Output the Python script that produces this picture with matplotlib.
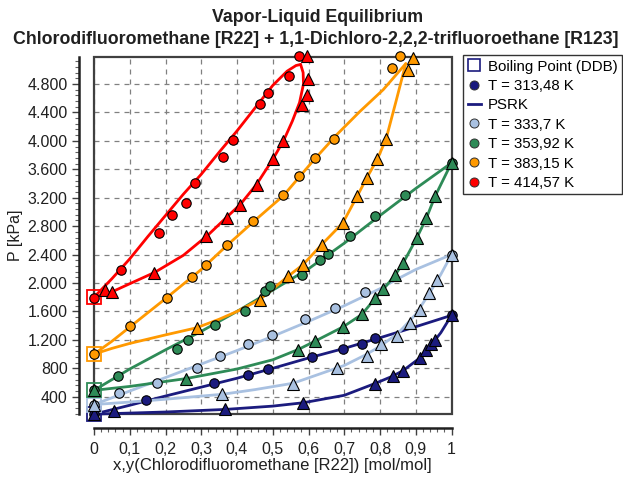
import matplotlib
matplotlib.use("Agg")
import matplotlib.pyplot as plt
from matplotlib.lines import Line2D
from matplotlib.patches import Rectangle
from matplotlib.ticker import MultipleLocator, FuncFormatter

plt.rcParams['font.family'] = ['Liberation Sans', 'DejaVu Sans']

# ---- data: (x = liquid, y = vapour mole fraction of R22, P in kPa) ----
temps = ["T = 313,48 K", "T = 333,7 K", "T = 353,92 K", "T = 383,15 K", "T = 414,57 K"]
colors = ["#1b1b7e", "#a9c1e1", "#2e8b57", "#ff9900", "#ff0000"]

# pure R123 boiling pressures at each temperature
bp_p = [155, 290, 490, 1000, 1800]

# 313.48 K
x1 = [0.0, 0.145, 0.337, 0.432, 0.488, 0.609, 0.696, 0.749, 0.786, 1.0]
px1 = [155, 347, 596, 703, 793, 957, 1078, 1144, 1229, 1545]
y1 = [0.0, 0.055, 0.366, 0.585, 0.786, 0.835, 0.865, 0.912, 0.930, 0.944, 0.953, 1.0]
py1 = [155, 200, 221, 315, 586, 689, 769, 947, 1064, 1135, 1205, 1545]

# 333.7 K
x2 = [0.0, 0.071, 0.175, 0.287, 0.352, 0.432, 0.497, 0.590, 0.674, 0.758, 1.0]
px2 = [290, 446, 596, 807, 980, 1135, 1275, 1496, 1651, 1870, 2400]
y2 = [0.0, 0.357, 0.557, 0.681, 0.763, 0.804, 0.847, 0.884, 0.912, 0.938, 0.960, 1.0]
py2 = [290, 432, 586, 807, 980, 1135, 1251, 1440, 1623, 1862, 2039, 2400]

# 353.92 K
x3 = [0.0, 0.068, 0.231, 0.264, 0.338, 0.422, 0.478, 0.492, 0.581, 0.632, 0.655,
      0.716, 0.786, 0.870, 1.0]
px3 = [490, 689, 1074, 1205, 1416, 1603, 1884, 1955, 2119, 2320, 2414,
       2667, 2939, 3244, 3690]
y3 = [0.0, 0.257, 0.571, 0.618, 0.697, 0.749, 0.786, 0.809, 0.842, 0.865, 0.903,
      0.930, 0.954, 1.0]
py3 = [490, 652, 1064, 1181, 1384, 1557, 1791, 1918, 2119, 2283, 2635,
       2916, 3220, 3690]

# 383.15 K
x4 = [0.0, 0.101, 0.205, 0.273, 0.313, 0.371, 0.444, 0.530, 0.574, 0.618, 0.670,
      0.833, 0.857]
px4 = [1000, 1392, 1791, 2087, 2260, 2541, 2869, 3244, 3501, 3760, 4031,
       5025, 5189]
y4 = [0.287, 0.464, 0.543, 0.585, 0.637, 0.696, 0.736, 0.763, 0.793, 0.817,
      0.879, 0.891]
py4 = [1370, 1767, 2095, 2260, 2541, 2846, 3220, 3479, 3746, 4027, 5001, 5166]

# 414.57 K
x5 = [0.0, 0.075, 0.183, 0.217, 0.257, 0.283, 0.360, 0.390, 0.464, 0.488,
      0.546, 0.574]
px5 = [1791, 2179, 2700, 2953, 3127, 3408, 3769, 4017, 4523, 4674, 4907, 5198]
y5 = [0.031, 0.049, 0.168, 0.313, 0.371, 0.408, 0.455, 0.502, 0.528, 0.581,
      0.595, 0.599, 0.595]
py5 = [1908, 1870, 2143, 2658, 2916, 3103, 3384, 3746, 3993, 4509, 4650, 4870, 5189]

# PSRK model curves (bubble branch, then dew branch)
m1_x = [0.0, 0.1, 0.2, 0.3, 0.4, 0.5, 0.6, 0.7, 0.8, 0.9, 1.0]
m1_p = [155, 280, 410, 535, 660, 800, 945, 1080, 1230, 1385, 1545]
m1_y = [0.0, 0.2, 0.366, 0.5, 0.585, 0.7, 0.786, 0.835, 0.865, 0.912, 0.944, 0.97, 1.0]
m1_q = [155, 185, 221, 268, 315, 420, 586, 689, 769, 947, 1135, 1300, 1545]

m2_x = [0.0, 0.1, 0.2, 0.3, 0.4, 0.5, 0.6, 0.7, 0.8, 0.85, 0.9, 1.0]
m2_p = [290, 480, 670, 860, 1050, 1250, 1460, 1680, 1920, 2060, 2190, 2400]
m2_y = [0.0, 0.1, 0.2, 0.36, 0.45, 0.557, 0.7, 0.76, 0.8, 0.85, 0.9, 0.94, 0.97, 1.0]
m2_q = [290, 325, 365, 435, 500, 590, 840, 990, 1110, 1290, 1560, 1870, 2120, 2400]

m3_x = [0.0, 0.1, 0.2, 0.3, 0.4, 0.5, 0.6, 0.7, 0.8, 0.9, 1.0]
m3_p = [490, 790, 1060, 1320, 1600, 1900, 2200, 2560, 2950, 3330, 3690]
m3_y = [0.0, 0.1, 0.257, 0.4, 0.5, 0.571, 0.618, 0.697, 0.749, 0.786, 0.809, 0.842,
        0.865, 0.903, 0.93, 0.954, 1.0]
m3_q = [490, 545, 655, 790, 920, 1064, 1181, 1384, 1557, 1780, 1910, 2110,
        2283, 2635, 2916, 3220, 3690]

m4_x = [0.0, 0.05, 0.1, 0.2, 0.3, 0.37, 0.45, 0.53, 0.613, 0.679, 0.744, 0.809, 0.872]
m4_p = [1000, 1180, 1380, 1780, 2190, 2520, 2880, 3230, 3720, 4087, 4415, 4720, 5086]
m4_y = [0.0, 0.05, 0.1, 0.15, 0.2, 0.287, 0.35, 0.4, 0.464, 0.543, 0.585, 0.637,
        0.696, 0.736, 0.763, 0.793, 0.817, 0.845, 0.872]
m4_q = [1000, 1080, 1150, 1210, 1270, 1370, 1490, 1600, 1767, 2095, 2260, 2541,
        2846, 3220, 3479, 3746, 4027, 4560, 5086]

m5_x = [0.0, 0.05, 0.1, 0.15, 0.2, 0.25, 0.3, 0.35, 0.4, 0.45, 0.5, 0.54, 0.565, 0.578]
m5_p = [1800, 2060, 2340, 2650, 2950, 3250, 3530, 3840, 4140, 4460, 4780, 4980, 5060, 5075]
m5_y = [0.0, 0.05, 0.1, 0.17, 0.25, 0.32, 0.37, 0.41, 0.455, 0.5, 0.53, 0.555,
        0.575, 0.586, 0.585, 0.578]
m5_q = [1800, 1875, 1990, 2150, 2390, 2680, 2920, 3110, 3390, 3740, 4000, 4280,
        4540, 4800, 4960, 5075]

liquid = [(x1, px1), (x2, px2), (x3, px3), (x4, px4), (x5, px5)]
vapour = [(y1, py1), (y2, py2), (y3, py3), (y4, py4), (y5, py5)]
model = [(m1_x, m1_p, m1_y, m1_q), (m2_x, m2_p, m2_y, m2_q), (m3_x, m3_p, m3_y, m3_q),
         (m4_x, m4_p, m4_y, m4_q), (m5_x, m5_p, m5_y, m5_q)]

# ---- figure ----
fig = plt.figure(figsize=(6.23, 4.79), dpi=100)
ax = fig.add_axes([94 / 623, 1 - 414 / 479, (451.5 - 94) / 623, (414 - 57) / 479])
ax.set_xlim(0, 1)
ax.set_ylim(157, 5180)

for (mx, mp, my, mq), c in zip(model, colors):
    ax.plot(mx, mp, color=c, lw=2, zorder=3, clip_on=False, solid_capstyle='round')
    ax.plot(my, mq, color=c, lw=2, zorder=3, clip_on=False, solid_capstyle='round')

for c, p in zip(colors, bp_p):
    ax.plot([0], [p], ls='none', marker='s', ms=9.5, mfc='none', mec=c, mew=1.3,
            zorder=4, clip_on=False)

for (xs, ps), c in zip(liquid, colors):
    ax.plot(xs, ps, ls='none', marker='o', ms=6.8, mfc=c, mec='black', mew=0.8,
            zorder=5, clip_on=False)
for (ys, ps), c in zip(vapour, colors):
    ax.plot(ys, ps, ls='none', marker='^', ms=8.5, mfc=c, mec='black', mew=0.8,
            zorder=5, clip_on=False)

# grid
ax.set_axisbelow(True)
ax.grid(True, which='major', color='#808080', ls=(0, (4, 4)), lw=0.9)

# box around the plotting area
ax.add_patch(Rectangle((0, 0), 1, 1, transform=ax.transAxes, fill=False,
                       ec='#404040', lw=1.6, zorder=2.5, clip_on=False))

# detached axis lines
for s in ['top', 'right']:
    ax.spines[s].set_visible(False)
ax.spines['left'].set_position(('outward', 11))
ax.spines['bottom'].set_position(('outward', 10))
for s in ['left', 'bottom']:
    ax.spines[s].set_linewidth(1.8)
    ax.spines[s].set_color('#202020')

ax.xaxis.set_minor_locator(MultipleLocator(0.02))
ax.yaxis.set_minor_locator(MultipleLocator(80))
ax.set_yticks([400 * i for i in range(1, 13)])
ax.set_xticks([i / 10 for i in range(11)])

ax.xaxis.set_major_formatter(FuncFormatter(
    lambda v, pos: "0" if abs(v) < 1e-9 else ("1" if abs(v - 1) < 1e-9 else f"{v:.1f}".replace('.', ','))))
ax.yaxis.set_major_formatter(FuncFormatter(
    lambda v, pos: f"{int(round(v)):,}".replace(',', '.')))

ax.tick_params(axis='both', which='major', direction='out', length=5, width=1,
               color='#404040', labelsize=11.5, labelcolor='#202020', pad=3)
ax.tick_params(axis='x', which='major', pad=5)
ax.tick_params(axis='both', which='minor', direction='out', length=3, width=0.8,
               color='#606060')

ax.set_xlabel("x,y(Chlorodifluoromethane [R22]) [mol/mol]", fontsize=12,
              color='#202020', labelpad=1)
ax.set_ylabel("P [kPa]", fontsize=11.5, color='#202020', labelpad=3)

fig.text(318 / 623, 1 - 17 / 479, "Vapor-Liquid Equilibrium", ha='center', va='center',
         fontsize=12.8, fontweight='bold', color='#202020')
fig.text(316 / 623, 1 - 40 / 479,
         "Chlorodifluoromethane [R22] + 1,1-Dichloro-2,2,2-trifluoroethane [R123]",
         ha='center', va='center', fontsize=12.8, fontweight='bold', color='#202020')

# legend
handles = [
    Line2D([], [], ls='none', marker='s', ms=8.5, mfc='none', mec=colors[0], mew=1.2),
    Line2D([], [], ls='none', marker='o', ms=6.5, mfc=colors[0], mec='#303030', mew=0.7),
    Line2D([], [], color=colors[0], lw=2),
]
labels = ["Boiling Point (DDB)", temps[0], "PSRK"]
for c, t in zip(colors[1:], temps[1:]):
    handles.append(Line2D([], [], ls='none', marker='o', ms=6.5, mfc=c, mec='#303030', mew=0.7))
    labels.append(t)
leg = fig.legend(handles, labels, loc='upper left',
                 bbox_to_anchor=(463 / 623, 1 - 55 / 479), frameon=True,
                 fontsize=10.8, handlelength=0.9, handletextpad=0.45,
                 labelspacing=0.36, borderpad=0.3, fancybox=False,
                 borderaxespad=0)
leg.get_frame().set_edgecolor('black')
leg.get_frame().set_linewidth(1.0)

fig.savefig("out.png", dpi=100, facecolor='white')
